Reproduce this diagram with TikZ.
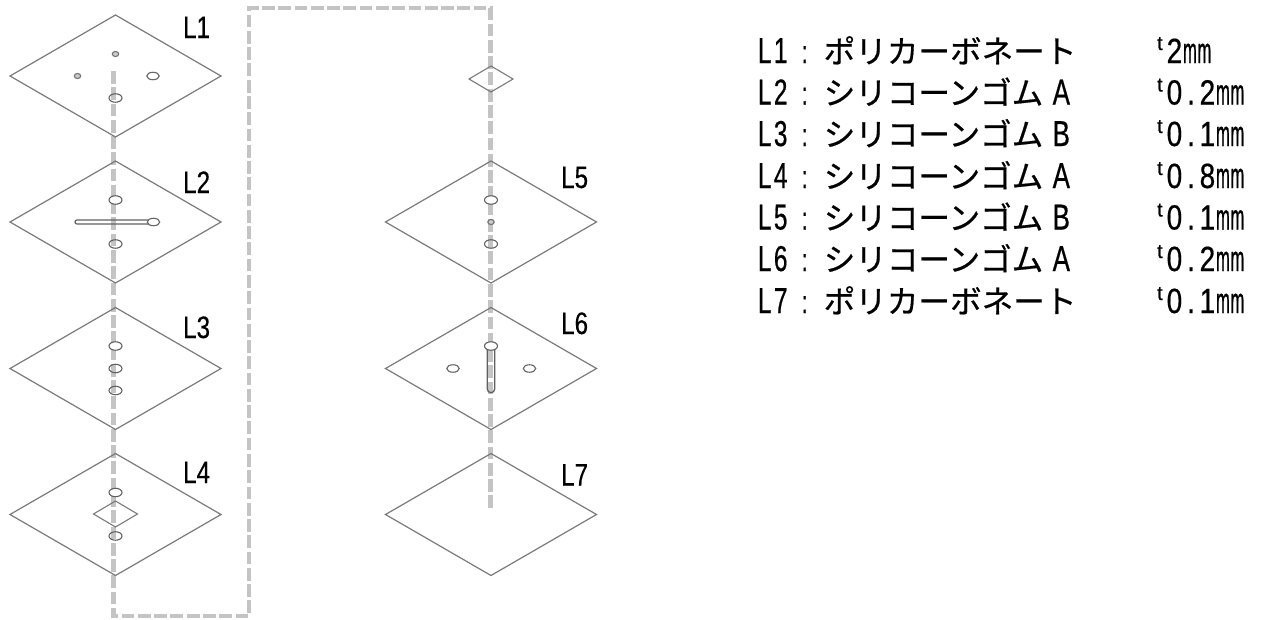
\documentclass[tikz,border=0pt]{standalone}
\usepackage{fontspec}
\usetikzlibrary{shapes.geometric}
\newfontfamily\jpf[FakeBold=0.6]{Noto Sans CJK JP}
\newfontfamily\latf[FakeStretch=0.68,FakeBold=0.5]{Liberation Sans}
\newfontfamily\vdf[FakeStretch=0.8,FakeBold=0.5]{Liberation Sans}
\newfontfamily\wdf[FakeStretch=0.72,FakeBold=0.5]{Liberation Sans}
\newfontfamily\mmf[FakeStretch=0.46,FakeBold=0.5]{Liberation Sans}
\newfontfamily\tf[FakeBold=0.3]{Liberation Sans}
\newfontfamily\labf[FakeStretch=0.78,FakeBold=0.4]{Liberation Sans}
\definecolor{dashgray}{HTML}{C4C4C4}
\definecolor{linegray}{HTML}{7A7A7A}
\newcommand{\hc}[1]{\makebox[16pt][c]{\fontsize{36}{36}\latf #1}}
\newcommand{\vd}[1]{\makebox[16.5pt][c]{\fontsize{35}{35}\vdf #1}}
\newcommand{\hw}[1]{\hspace{10pt}\makebox[16pt][c]{\fontsize{36}{36}\wdf #1}}
\newcommand{\colonc}{\makebox[32pt][c]{\fontsize{32}{32}\latf :}\hspace{3pt}}
\newcommand{\jp}[1]{{\fontsize{31.6}{32}\jpf #1}}
\newcommand{\mmu}{\makebox[14.5pt][c]{\fontsize{36}{36}\mmf m}\makebox[14.5pt][c]{\fontsize{36}{36}\mmf m}}
\newcommand{\tsup}{\makebox[9pt][l]{\raisebox{13pt}{\fontsize{20}{20}\tf t}}}
\tikzset{
 x=1pt,y=-1pt,
 plate/.style={shape=diamond,draw=linegray,line width=1.2pt,minimum width=211pt,minimum height=122pt,inner sep=0pt,outer sep=0pt},
 smallplate/.style={shape=diamond,draw=linegray,line width=1.1pt,minimum width=44pt,minimum height=26pt,inner sep=0pt,outer sep=0pt},
 hole/.style={shape=ellipse,draw=black!62,line width=1.1pt,minimum width=13pt,minimum height=8.5pt,inner sep=0pt,outer sep=0pt},
 tiny/.style={shape=ellipse,draw=black!55,line width=1.1pt,fill=black!20,minimum width=6.5pt,minimum height=5pt,inner sep=0pt,outer sep=0pt},
 mid/.style={shape=ellipse,draw=black!60,line width=1.1pt,minimum width=12.5pt,minimum height=7.5pt,inner sep=0pt,outer sep=0pt},
 flow/.style={draw=dashgray,line width=4.4pt,dash pattern=on 12.77pt off 3.5pt},
 slot/.style={draw=black!62,line width=1.2pt,line cap=round},
 lab/.style={anchor=base west,inner sep=0pt,font=\fontsize{31}{31}\labf},
 row/.style={anchor=base west,inner sep=0pt},
}
\begin{document}
\begin{tikzpicture}
\useasboundingbox (0,0) rectangle (1262,619);
% flow path
\coordinate (f0) at (113.5,71);
\coordinate (f1) at (113.5,616);
\coordinate (f2) at (249,616);
\coordinate (f3) at (249,8);
\coordinate (f4) at (490.5,8);
\coordinate (f5) at (490.5,508);
\draw[flow] (f0) -- (f1) -- (f2) -- (f3) -- (f4) -- (f5);
% plates
\node[plate] (p1) at (115.5,76) {};
\node[plate] (p2) at (115.5,222) {};
\node[plate] (p3) at (115.5,368.5) {};
\node[plate] (p4) at (115.5,514.5) {};
\node[plate] (p5) at (491,222) {};
\node[plate] (p6) at (491,368.5) {};
\node[plate] (p7) at (491,514.5) {};
\node[smallplate] (sp1) at (491,79) {};
\node[smallplate] (sp4) at (115.5,514) {};
% L1 holes
\node[tiny] (a1) at (115.5,54) {};
\node[tiny] (a2) at (77.5,76) {};
\node[mid] (a3) at (153,76) {};
\node[hole] (a4) at (115.5,98) {};
% L2
\node[hole,fill=white] (b1) at (115.5,200) {};
\node[hole] (b2) at (115.5,244) {};
\draw[slot] (148,220) -- (77,220) arc[start angle=270,end angle=90,radius=2] -- (148,224);
\node[mid,fill=white] (b3) at (153.5,222) {};
% L3
\node[hole,fill=white] (c1) at (115.5,346) {};
\node[hole] (c2) at (115.5,368.5) {};
\node[hole] (c3) at (115.5,390.5) {};
% L4
\node[hole,fill=white] (d1) at (115.5,492.5) {};
\node[hole] (d2) at (115.5,536) {};
% L5
\node[hole,fill=white] (e1) at (491,200) {};
\node[tiny] (e2) at (491,222) {};
\node[hole] (e3) at (491,244) {};
% L6
\node[mid] (g1) at (453,368.5) {};
\node[mid] (g2) at (529.5,368.5) {};
\draw[slot,line width=1.3pt] (487.3,346) -- (487.3,389) arc[start angle=180,end angle=0,radius=3.7] -- (494.7,346);
\node[hole,fill=white] (g3) at (491,346) {};
% layer labels
\node[lab] (t1) at (183,38) {L1};
\node[lab] (t2) at (183,193) {L2};
\node[lab] (t3) at (183,338) {L3};
\node[lab] (t4) at (183,483) {L4};
\node[lab] (t5) at (561,188) {L5};
\node[lab] (t6) at (561,334) {L6};
\node[lab] (t7) at (561,485.5) {L7};
% table
\node[row] (r1) at (756.5,63) {\hc{L}\hc{1}\colonc\jp{ポリカーボネート}};
\node[row] (r2) at (756.5,104.5) {\hc{L}\hc{2}\colonc\jp{シリコーンゴム}\hw{A}};
\node[row] (r3) at (756.5,146) {\hc{L}\hc{3}\colonc\jp{シリコーンゴム}\hw{B}};
\node[row] (r4) at (756.5,188) {\hc{L}\hc{4}\colonc\jp{シリコーンゴム}\hw{A}};
\node[row] (r5) at (756.5,229.5) {\hc{L}\hc{5}\colonc\jp{シリコーンゴム}\hw{B}};
\node[row] (r6) at (756.5,271) {\hc{L}\hc{6}\colonc\jp{シリコーンゴム}\hw{A}};
\node[row] (r7) at (756.5,313) {\hc{L}\hc{7}\colonc\jp{ポリカーボネート}};
\node[row] (v1) at (1157,63) {\tsup\vd{2}\mmu};
\node[row] (v2) at (1157,104.5) {\tsup\vd{0}\vd{.}\vd{2}\mmu};
\node[row] (v3) at (1157,146) {\tsup\vd{0}\vd{.}\vd{1}\mmu};
\node[row] (v4) at (1157,188) {\tsup\vd{0}\vd{.}\vd{8}\mmu};
\node[row] (v5) at (1157,229.5) {\tsup\vd{0}\vd{.}\vd{1}\mmu};
\node[row] (v6) at (1157,271) {\tsup\vd{0}\vd{.}\vd{2}\mmu};
\node[row] (v7) at (1157,313) {\tsup\vd{0}\vd{.}\vd{1}\mmu};
\end{tikzpicture}
\end{document}
